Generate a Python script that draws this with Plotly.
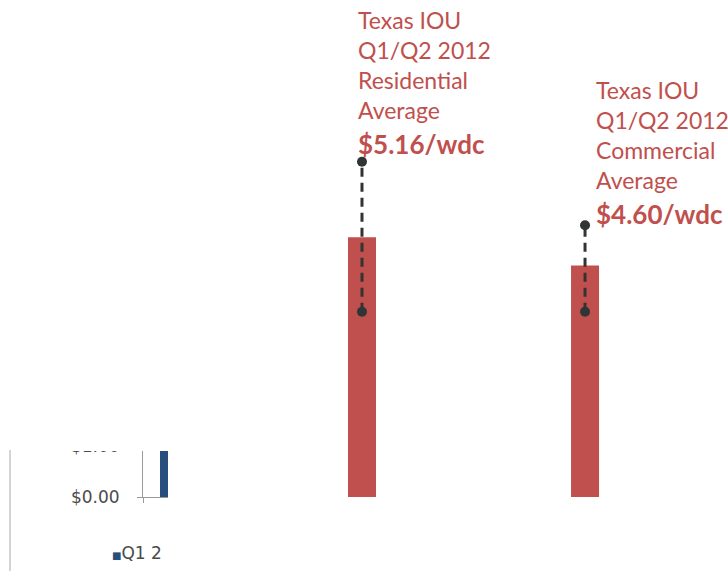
import plotly.graph_objects as go

# --- data -------------------------------------------------------------
categories = ["Residential", "Commercial"]
avg_cost = [5.16, 4.60]            # $/wdc, Texas IOU Q1/Q2 2012 averages
range_high = [6.66, 5.40]          # upper end of the dashed range marker
range_low = [3.68, 3.68]           # lower end of the dashed range marker
value_labels = ["$5.16/wdc", "$4.60/wdc"]
label_heads = [
    "Texas IOU<br>Q1/Q2 2012<br>Residential<br>Average",
    "Texas IOU<br>Q1/Q2 2012<br>Commercial<br>Average",
]

inset_categories = ["Q1 2012"]
inset_values = [1.6]
inset_tickvals = [0, 1, 2]
inset_ticktext = ["$0.00", "$1.00", "$2.00"]
inset_series = "Q1 2"

# --- page geometry (pixels) -------------------------------------------
W, H = 728, 571
RED = "#c0504d"
BLUE = "#284e7e"
AXIS = "#9a9a9a"
TEXT = "#4a4a4a"


def fx(px):
    return px / W


def fy(px):
    return 1 - px / H


fig = go.Figure()

# main red bars
fig.add_trace(go.Bar(
    x=categories, y=avg_cost, width=0.1256,
    marker=dict(color=RED, line=dict(width=0)),
    xaxis="x", yaxis="y", showlegend=False, hoverinfo="skip",
))

# dashed range markers with end dots
for cat, lo, hi in zip(categories, range_low, range_high):
    fig.add_trace(go.Scatter(
        x=[cat, cat], y=[lo, hi], mode="lines+markers",
        line=dict(color="#333333", width=3, dash="9px,6px"),
        marker=dict(color="#2f3535", size=10),
        xaxis="x", yaxis="y", showlegend=False, hoverinfo="skip",
        cliponaxis=False,
    ))

# small inset chart on the left
fig.add_trace(go.Bar(
    x=inset_categories, y=inset_values, width=0.32,
    marker=dict(color=BLUE, line=dict(width=0)),
    xaxis="x2", yaxis="y2", showlegend=False, hoverinfo="skip",
))

annotations = []
head_shift = [(-6, 36), (9, 29)]
value_shift = [(-6, 0), (9, -7)]
for i, cat in enumerate(categories):
    annotations.append(dict(
        x=cat, y=range_high[i], xref="x", yref="y",
        text=label_heads[i], showarrow=False, align="left",
        xanchor="left", yanchor="bottom",
        xshift=head_shift[i][0], yshift=head_shift[i][1],
        font=dict(family="Lato", size=23, color=RED),
    ))
    annotations.append(dict(
        x=cat, y=range_high[i], xref="x", yref="y",
        text="<b>" + value_labels[i] + "</b>", showarrow=False, align="left",
        xanchor="left", yanchor="bottom",
        xshift=value_shift[i][0], yshift=value_shift[i][1],
        font=dict(family="Lato", size=26, color=RED),
    ))

# inset legend entry
annotations.append(dict(
    x=fx(110), y=fy(553), xref="paper", yref="paper",
    text='<span style="color:%s;font-size:10px">■</span>%s' % (BLUE, inset_series),
    showarrow=False, xanchor="left", yanchor="middle",
    font=dict(family="DejaVu Sans", size=17, color=TEXT),
))

shapes = [
    # frame line of the neighbouring panel
    dict(type="line", xref="paper", yref="paper",
         x0=fx(10), x1=fx(10), y0=fy(450), y1=fy(571),
         line=dict(color="#d4d4d4", width=2)),
    # white mask over the upper part of the inset
    dict(type="rect", xref="paper", yref="paper", layer="above",
         x0=fx(40), x1=fx(200), y0=fy(451), y1=1.0,
         fillcolor="white", line=dict(width=0)),
]

fig.update_layout(
    width=W, height=H,
    margin=dict(l=0, r=0, t=0, b=0, autoexpand=False),
    paper_bgcolor="white", plot_bgcolor="rgba(0,0,0,0)",
    xaxis=dict(domain=[0, 1], type="category", categoryarray=categories,
               range=[-1.623, 1.641], visible=False, automargin=False),
    yaxis=dict(domain=[0, 1], range=[-(H - 497) / 50.33, 497 / 50.33],
               visible=False, automargin=False),
    xaxis2=dict(domain=[fx(143), fx(168)], anchor="y2", type="category",
                range=[-0.5, 0.0], showline=True, linecolor=AXIS, linewidth=1,
                ticks="outside", tickson="boundaries", ticklen=5,
                tickcolor=AXIS, showticklabels=False, showgrid=False,
                zeroline=False, automargin=False),
    yaxis2=dict(domain=[fy(497), fy(395)], anchor="x2", range=[0, 2.0],
                showline=True, linecolor=AXIS, linewidth=1,
                ticks="outside", ticklen=5, tickcolor=AXIS,
                tickvals=inset_tickvals, ticktext=inset_ticktext,
                ticklabelstandoff=14,
                tickfont=dict(family="DejaVu Sans", size=17, color=TEXT),
                showgrid=False, zeroline=False, automargin=False),
    annotations=annotations,
    shapes=shapes,
    showlegend=False,
)

fig.write_html("out.html")
